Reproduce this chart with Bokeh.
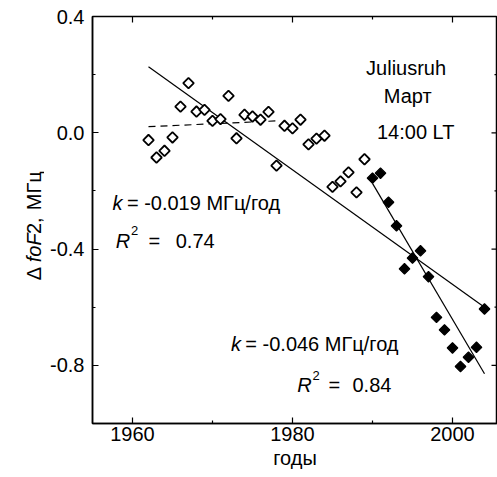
import numpy as np
from bokeh.plotting import figure
from bokeh.layouts import row
from bokeh.models import Range1d, FixedTicker, Label, PrintfTickFormatter
from bokeh.embed import file_html
from bokeh.resources import INLINE

# ---- data ----
open_years = [1962, 1963, 1964, 1965, 1966, 1967, 1968, 1969, 1970, 1971,
              1972, 1973, 1974, 1975, 1976, 1977, 1978, 1979, 1980, 1981,
              1982, 1983, 1984, 1985, 1986, 1987, 1988, 1989]
open_vals = [-0.025, -0.085, -0.062, -0.016, 0.090, 0.171, 0.073, 0.079, 0.041, 0.047,
             0.127, -0.019, 0.062, 0.056, 0.045, 0.072, -0.113, 0.024, 0.015, 0.045,
             -0.040, -0.020, -0.010, -0.186, -0.167, -0.136, -0.205, -0.091]

filled_years = [1990, 1991, 1992, 1993, 1994, 1995, 1996, 1997, 1998, 1999,
                2000, 2001, 2002, 2003, 2004]
filled_vals = [-0.156, -0.139, -0.239, -0.320, -0.468, -0.431, -0.406, -0.495, -0.635, -0.678,
               -0.740, -0.804, -0.772, -0.738, -0.606]

fit_all_years = [1962, 2004]
fit_all_vals = [0.227, -0.600]
fit_recent_years = [1990, 2004]
fit_recent_vals = [-0.174, -0.829]
dash_years = [1962, 1978]
dash_vals = [0.021, 0.041]

x_major = [1960, 1980, 2000]
x_minor = [1970, 1990]
y_major = [-0.8, -0.4, 0.0, 0.4]
y_minor = [-1.0, -0.6, -0.2, 0.2]

FONT = "Liberation Sans"
FS = "20px"

X0, X1 = 1955, 2005.625
Y0, Y1 = -1.0, 0.4

LEFT_W = 44
p = figure(width=497 - LEFT_W, height=477,
           x_range=Range1d(X0, X1), y_range=Range1d(Y0, Y1),
           output_backend="svg", toolbar_location=None,
           min_border_left=92 - LEFT_W, min_border_right=0,
           min_border_top=16, min_border_bottom=54)
p.grid.visible = False
p.outline_line_color = "black"
p.outline_line_width = 1.5
p.background_fill_color = "white"
p.border_fill_color = "white"


def style_axis(ax, ticker):
    ax.ticker = ticker
    ax.axis_line_color = "black"
    ax.axis_line_width = 1.5
    ax.major_tick_in = 6
    ax.major_tick_out = 0
    ax.minor_tick_in = 3
    ax.minor_tick_out = 0
    ax.major_tick_line_width = 1.2
    ax.minor_tick_line_width = 1.2
    ax.major_tick_line_color = "black"
    ax.minor_tick_line_color = "black"
    ax.major_label_text_font = FONT
    ax.major_label_text_font_size = FS
    ax.major_label_text_color = "black"


style_axis(p.xaxis[0], FixedTicker(ticks=x_major, minor_ticks=x_minor))
p.xaxis[0].major_label_standoff = 3
p.xaxis[0].axis_label = "годы"
p.xaxis[0].axis_label_text_font = FONT
p.xaxis[0].axis_label_text_font_size = FS
p.xaxis[0].axis_label_text_font_style = "normal"
p.xaxis[0].axis_label_text_color = "black"
p.xaxis[0].axis_label_standoff = 3
style_axis(p.yaxis[0], FixedTicker(ticks=y_major, minor_ticks=y_minor))
p.yaxis[0].major_label_standoff = 8
p.yaxis[0].formatter = PrintfTickFormatter(format="%.1f")

# inward ticks on the right and top frame edges, derived from the tick lists
px_x = (X1 - X0) / 405.0
px_y = (Y1 - Y0) / 407.0
p.segment(x0=[X1] * len(y_major), y0=y_major, x1=[X1 - 6 * px_x] * len(y_major), y1=y_major,
          line_color="black", line_width=1.2)
p.segment(x0=[X1] * len(y_minor), y0=y_minor, x1=[X1 - 3 * px_x] * len(y_minor), y1=y_minor,
          line_color="black", line_width=1.2)
p.segment(x0=x_major, y0=[Y1] * len(x_major), x1=x_major, y1=[Y1 - 6 * px_y] * len(x_major),
          line_color="black", line_width=1.2)
p.segment(x0=x_minor, y0=[Y1] * len(x_minor), x1=x_minor, y1=[Y1 - 3 * px_y] * len(x_minor),
          line_color="black", line_width=1.2)

# ---- lines ----
p.line(fit_all_years, fit_all_vals, line_color="black", line_width=1.2)
p.line(fit_recent_years, fit_recent_vals, line_color="black", line_width=1.2)
p.line(dash_years, dash_vals, line_color="black", line_width=1.2, line_dash="7 5")

# ---- markers ----
p.scatter(open_years, open_vals, marker="square", angle=np.pi / 4, size=7.5,
          fill_color="white", line_color="black", line_width=1.8)
p.scatter(filled_years, filled_vals, marker="square", angle=np.pi / 4, size=7.5,
          fill_color="black", line_color="black", line_width=1.2)


def lab(fig, x, y, text, size=FS, style="normal", align="left", angle=0.0):
    fig.add_layout(Label(x=x, y=y, text=text, text_font=FONT, text_font_size=size,
                         text_font_style=style, text_color="black", text_align=align,
                         text_baseline="alphabetic", angle=angle))


# top-right caption
lab(p, 1994.2, 0.223, "Juliusruh", align="center")
lab(p, 1994.4, 0.127, "Март", align="center")
lab(p, 1995.4, 0.003, "14:00 LT", align="center")

# upper annotation
lab(p, 1957.5, -0.243, "k", style="italic")
lab(p, 1959.3, -0.243, "= -0.019 МГц/год")
lab(p, 1957.9, -0.371, "R", style="italic")
lab(p, 1959.8, -0.336, "2", size="13px")
lab(p, 1962.0, -0.371, "=")
lab(p, 1965.4, -0.371, "0.74")

# lower annotation
lab(p, 1972.3, -0.725, "k", style="italic")
lab(p, 1974.1, -0.725, "= -0.046 МГц/год")
lab(p, 1980.6, -0.869, "R", style="italic")
lab(p, 1982.5, -0.835, "2", size="13px")
lab(p, 1984.5, -0.869, "=")
lab(p, 1987.5, -0.869, "0.84")

# ---- y axis title strip (pixel coordinates, y down) ----
lf = figure(width=LEFT_W, height=477, x_range=Range1d(0, LEFT_W), y_range=Range1d(477, 0),
            output_backend="svg", toolbar_location=None, min_border=0,
            x_axis_type=None, y_axis_type=None)
lf.grid.visible = False
lf.outline_line_color = None
lf.background_fill_color = "white"
lf.border_fill_color = "white"
ya = np.pi / 2
lab(lf, 33, 309, "Δ", angle=ya)
lab(lf, 33, 288, "foF", style="italic", angle=ya)
lab(lf, 33, 255, "2,", angle=ya)
lab(lf, 33, 227, "МГц", angle=ya)

layout = row(lf, p, spacing=0)
open("out.html", "w").write(file_html(layout, INLINE))
